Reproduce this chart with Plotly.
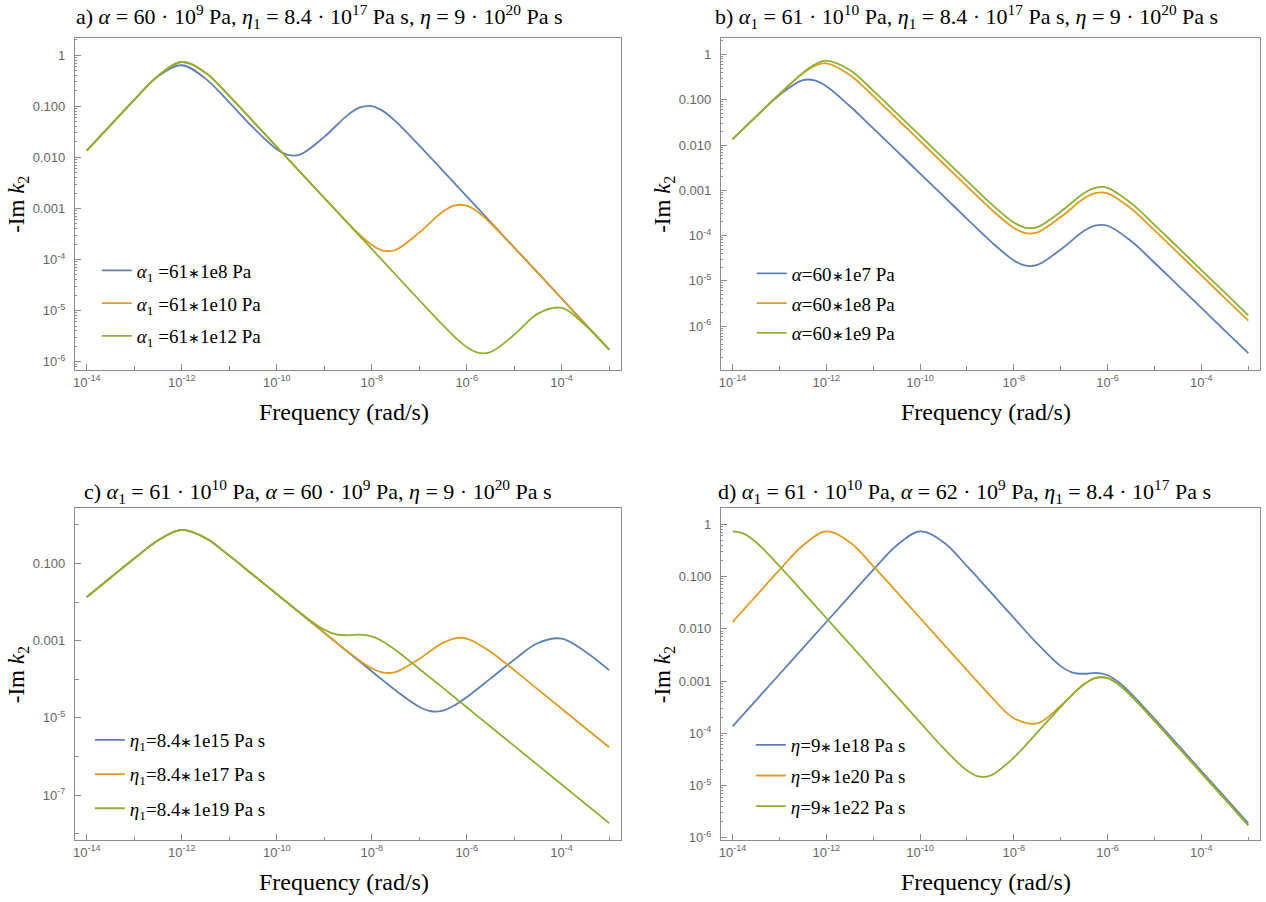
import plotly.graph_objects as go

# ---------------- data ----------------
# Panel a: alpha = 60e9, eta1 = 8.4e17, eta = 9e20 ; alpha1 varied
FREQ_A = [1e-14, 3.16e-14, 1e-13, 3.16e-13, 1e-12, 3.16e-12, 1e-11, 3.16e-11, 1e-10, 1.78e-10,
          3.16e-10, 1e-9, 3.16e-9, 5.62e-9, 1e-8, 1.78e-8, 3.16e-8, 1e-7, 3.16e-7, 5.62e-7,
          1e-6, 1.78e-6, 3.16e-6, 1e-5, 3.16e-5, 1e-4, 3.16e-4, 1e-3]
A_ALPHA1_8 = [0.0135, 0.04265, 0.1335, 0.3837, 0.6344, 0.3478, 0.1188, 0.03855, 0.01439, 0.01105,
              0.01146, 0.02516, 0.06775, 0.0948, 0.1011, 0.0794, 0.05106, 0.01717, 0.005464, 0.003075,
              0.001729, 9.726e-4, 5.468e-4, 1.729e-4, 5.468e-5, 1.729e-5, 5.468e-6, 1.729e-6]
A_ALPHA1_10 = [0.0135, 0.04265, 0.1339, 0.3938, 0.7337, 0.4542, 0.1588, 0.05077, 0.01607, 0.009041,
               0.005084, 0.001611, 5.186e-4, 3.042e-4, 1.934e-4, 1.484e-4, 1.539e-4, 3.366e-4, 8.735e-4, 1.152e-3,
               1.131e-3, 8.333e-4, 5.194e-4, 1.720e-4, 5.465e-5, 1.729e-5, 5.469e-6, 1.729e-6]
A_ALPHA1_12 = [0.0135, 0.04265, 0.1339, 0.3939, 0.7348, 0.4555, 0.1593, 0.05093, 0.01612, 0.009069,
               0.005099, 0.001612, 5.099e-4, 2.868e-4, 1.612e-4, 9.069e-5, 5.099e-5, 1.616e-5, 5.202e-6, 3.052e-6,
               1.940e-6, 1.489e-6, 1.546e-6, 3.376e-6, 8.759e-6, 1.133e-5, 5.195e-6, 1.720e-6]

# Panel b: alpha1 = 61e10, eta1 = 8.4e17, eta = 9e20 ; alpha varied
FREQ_B = [1e-14, 3.16e-14, 1e-13, 3.16e-13, 5.62e-13, 1e-12, 3.16e-12, 1e-11, 3.16e-11, 1e-10,
          3.16e-10, 1e-9, 3.16e-9, 1e-8, 1.78e-8, 3.16e-8, 1e-7, 3.16e-7, 5.62e-7, 1e-6,
          3.16e-6, 1e-5, 3.16e-5, 1e-4, 3.16e-4, 1e-3]
B_ALPHA_7 = [0.01349, 0.04245, 0.1276, 0.2708, 0.2689, 0.1995, 0.07276, 0.02337, 0.007401, 0.002341,
             7.404e-4, 2.346e-4, 7.552e-5, 2.816e-5, 2.162e-5, 2.241e-5, 4.901e-5, 1.272e-4, 1.677e-4, 1.646e-4,
             7.550e-5, 2.500e-5, 7.943e-6, 2.514e-6, 7.95e-7, 2.513e-7]
B_ALPHA_8 = [0.0135, 0.04264, 0.1335, 0.3844, 0.5625, 0.6411, 0.3541, 0.1210, 0.03858, 0.01221,
             0.003862, 0.001224, 3.939e-4, 1.469e-4, 1.127e-4, 1.169e-4, 2.557e-4, 6.635e-4, 8.752e-4, 8.593e-4,
             3.944e-4, 1.306e-4, 4.150e-5, 1.313e-5, 4.152e-6, 1.313e-6]
B_ALPHA_9 = [0.0135, 0.04265, 0.1339, 0.3938, 0.5998, 0.7337, 0.4542, 0.1588, 0.05077, 0.01607,
             0.005084, 0.001611, 5.186e-4, 1.934e-4, 1.484e-4, 1.539e-4, 3.366e-4, 8.735e-4, 1.152e-3, 1.131e-3,
             5.194e-4, 1.720e-4, 5.465e-5, 1.729e-5, 5.469e-6, 1.729e-6]

# Panel c: alpha1 = 61e10, alpha = 60e9, eta = 9e20 ; eta1 varied
FREQ_C = [1e-14, 3.16e-14, 1e-13, 3.16e-13, 1e-12, 3.16e-12, 1e-11, 3.16e-11, 1e-10, 3.16e-10,
          5.62e-10, 1e-9, 1.78e-9, 3.16e-9, 5.62e-9, 1e-8, 1.78e-8, 3.16e-8, 1e-7, 1.78e-7,
          3.16e-7, 5.62e-7, 1e-6, 3.16e-6, 1e-5, 3.16e-5, 1e-4, 3.16e-4, 1e-3]
C_ETA1_15 = [0.0135, 0.04265, 0.1339, 0.3938, 0.7337, 0.4542, 0.1588, 0.05077, 0.01607, 0.005083,
             0.002858, 0.001607, 9.04e-4, 5.084e-4, 2.860e-4, 1.611e-4, 9.096e-5, 5.186e-5, 1.934e-5, 1.485e-5,
             1.541e-5, 2.122e-5, 3.426e-5, 1.036e-4, 3.207e-4, 8.685e-4, 1.130e-3, 5.189e-4, 1.719e-4]
C_ETA1_17 = [0.0135, 0.04265, 0.1339, 0.3938, 0.7337, 0.4542, 0.1588, 0.05077, 0.01607, 0.005084,
             0.00286, 0.001611, 9.096e-4, 5.186e-4, 3.042e-4, 1.934e-4, 1.484e-4, 1.539e-4, 3.366e-4, 5.569e-4,
             8.735e-4, 1.152e-3, 1.131e-3, 5.194e-4, 1.720e-4, 5.465e-5, 1.729e-5, 5.469e-6, 1.729e-6]
C_ETA1_19 = [0.0135, 0.04265, 0.1339, 0.3938, 0.7337, 0.4542, 0.1588, 0.05078, 0.016104, 0.005186,
             0.003041, 0.001928, 0.001452, 0.001377, 0.001436, 0.001291, 9.230e-4, 5.699e-4, 1.880e-4, 1.061e-4,
             5.970e-5, 3.359e-5, 1.889e-5, 5.973e-6, 1.889e-6, 5.973e-7, 1.889e-7, 5.973e-8, 1.889e-8]

# Panel d: alpha1 = 61e10, alpha = 62e9, eta1 = 8.4e17 ; eta varied
FREQ_D = [1e-14, 1.78e-14, 3.16e-14, 1e-13, 3.16e-13, 1e-12, 3.16e-12, 1e-11, 3.16e-11, 1e-10, 3.16e-10,
          1e-9, 1.78e-9, 3.16e-9, 1e-8, 3.16e-8, 1e-7, 1.78e-7, 3.16e-7, 5.62e-7, 1e-6,
          1.78e-6, 3.16e-6, 1e-5, 3.16e-5, 1e-4, 3.16e-4, 1e-3]
D_ETA_18 = [1.35e-4, 2.4e-4, 4.269e-4, 0.00135, 0.004269, 0.0135, 0.04265, 0.1339, 0.3939, 0.7341, 0.4546,
            0.1590, 0.09016, 0.05083, 0.01612, 0.005191, 0.001930, 0.001454, 0.001378, 0.001437, 0.001292,
            9.240e-4, 5.705e-4, 1.882e-4, 5.977e-5, 1.891e-5, 5.980e-6, 1.891e-6]
D_ETA_20 = [0.0135, 0.024, 0.04265, 0.1339, 0.3939, 0.7341, 0.4546, 0.1590, 0.05082, 0.01609, 0.005089,
            0.001612, 9.107e-4, 5.191e-4, 1.936e-4, 1.541e-4, 3.369e-4, 5.575e-4, 8.744e-4, 1.153e-3, 1.133e-3,
            8.342e-4, 5.199e-4, 1.722e-4, 5.470e-5, 1.731e-5, 5.475e-6, 1.731e-6]
D_ETA_22 = [0.7341, 0.6572, 0.4546, 0.1590, 0.05082, 0.01609, 0.005088, 0.001609, 5.088e-4, 1.609e-4, 5.191e-5,
            1.936e-5, 1.486e-5, 1.543e-5, 3.429e-5, 1.037e-4, 3.210e-4, 5.485e-4, 8.695e-4, 1.151e-3, 1.131e-3,
            8.333e-4, 5.194e-4, 1.720e-4, 5.466e-5, 1.730e-5, 5.469e-6, 1.730e-6]

STAR = "<span style='font-size:14px'>∗</span>"
LEG_A = ["<i>α</i><sub>1</sub> =61" + STAR + "1e8 Pa", "<i>α</i><sub>1</sub> =61" + STAR + "1e10 Pa",
         "<i>α</i><sub>1</sub> =61" + STAR + "1e12 Pa"]
LEG_B = ["<i>α</i>=60" + STAR + "1e7 Pa", "<i>α</i>=60" + STAR + "1e8 Pa", "<i>α</i>=60" + STAR + "1e9 Pa"]
LEG_C = ["<i>η</i><sub>1</sub>=8.4" + STAR + "1e15 Pa s", "<i>η</i><sub>1</sub>=8.4" + STAR + "1e17 Pa s",
         "<i>η</i><sub>1</sub>=8.4" + STAR + "1e19 Pa s"]
LEG_D = ["<i>η</i>=9" + STAR + "1e18 Pa s", "<i>η</i>=9" + STAR + "1e20 Pa s", "<i>η</i>=9" + STAR + "1e22 Pa s"]

TITLES = [
    "a) <i>α</i> = 60 · 10<sup>9</sup> Pa, <i>η</i><sub>1</sub> = 8.4 · 10<sup>17</sup> Pa s, <i>η</i> = 9 · 10<sup>20</sup> Pa s",
    "b) <i>α</i><sub>1</sub> = 61 · 10<sup>10</sup> Pa, <i>η</i><sub>1</sub> = 8.4 · 10<sup>17</sup> Pa s, <i>η</i> = 9 · 10<sup>20</sup> Pa s",
    "c) <i>α</i><sub>1</sub> = 61 · 10<sup>10</sup> Pa, <i>α</i> = 60 · 10<sup>9</sup> Pa, <i>η</i> = 9 · 10<sup>20</sup> Pa s",
    "d) <i>α</i><sub>1</sub> = 61 · 10<sup>10</sup> Pa, <i>α</i> = 62 · 10<sup>9</sup> Pa, <i>η</i><sub>1</sub> = 8.4 · 10<sup>17</sup> Pa s",
]
X_LABEL = "Frequency (rad/s)"
Y_LABEL = "-Im <i>k</i><sub>2</sub>"

X_TICKS = [1e-14, 1e-12, 1e-10, 1e-8, 1e-6, 1e-4]
X_TICKTEXT = ["10<sup>-14</sup>", "10<sup>-12</sup>", "10<sup>-10</sup>", "10<sup>-8</sup>", "10<sup>-6</sup>", "10<sup>-4</sup>"]
X_MINOR = [1e-13, 1e-11, 1e-9, 1e-7, 1e-5, 1e-3]
Y_TICKS_FULL = [1, 0.1, 0.01, 0.001, 1e-4, 1e-5, 1e-6]
Y_TICKTEXT_FULL = ["1", "0.100", "0.010", "0.001", "10<sup>-4</sup>", "10<sup>-5</sup>", "10<sup>-6</sup>"]
Y_TICKS_C = [0.1, 1e-3, 1e-5, 1e-7]
Y_TICKTEXT_C = ["0.100", "0.001", "10<sup>-5</sup>", "10<sup>-7</sup>"]
Y_MINOR_C = [1, 0.01, 1e-4, 1e-6, 1e-8]

# ---------------- styling ----------------
W, H = 1266, 902
COLORS = ["#5E81B5", "#E19C24", "#8FB032"]
FRAME = "#8c8c8c"
SERIF = "Liberation Serif, Times New Roman, serif"
SANS = "Liberation Sans, Arial, sans-serif"


def fx(p):
    return p / W


def fy(p):
    return 1 - p / H


# frame boxes in pixels: (left, right, top, bottom)
BOX = {
    1: (73, 620, 38, 372),
    2: (720, 1260, 38, 372),
    3: (73, 620, 511, 845),
    4: (720, 1260, 511, 845),
}
YRANGE = {1: [-6.16, 0.34], 2: [-6.97, 0.37], 3: [-8.17, 0.43], 4: [-6.05, 0.31]}
XRANGE = [-14.25, -2.75]

PANELS = [
    (1, FREQ_A, [A_ALPHA1_8, A_ALPHA1_10, A_ALPHA1_12], LEG_A),
    (2, FREQ_B, [B_ALPHA_7, B_ALPHA_8, B_ALPHA_9], LEG_B),
    (3, FREQ_C, [C_ETA1_15, C_ETA1_17, C_ETA1_19], LEG_C),
    (4, FREQ_D, [D_ETA_18, D_ETA_20, D_ETA_22], LEG_D),
]
# legend (left, top, group gap) in pixels
LEGEND_POS = {1: (95, 253, 5), 2: (751, 256, 2), 3: (88, 725, 6.5), 4: (750, 730, 3)}

fig = go.Figure()
minor_full = [m * 10.0 ** k for k in range(-8, 1) for m in range(2, 10)]

layout = dict(width=W, height=H, margin=dict(l=0, r=0, t=0, b=0), autosize=False,
              paper_bgcolor="white", plot_bgcolor="white", showlegend=True)
annotations = []

for idx, freq, series, legs in PANELS:
    sfx = "" if idx == 1 else str(idx)
    legname = "legend" if idx == 1 else "legend%d" % idx
    for j, (vals, lab) in enumerate(zip(series, legs)):
        fig.add_trace(go.Scatter(
            x=freq, y=vals, mode="lines", name=lab,
            line=dict(color=COLORS[j], width=1.8, shape="spline", smoothing=1.0),
            xaxis="x" + sfx, yaxis="y" + sfx, legend=legname,
            legendgroup="g%d_%d" % (idx, j), hoverinfo="skip"))
    l, r, t, b = BOX[idx]
    common = dict(type="log", showline=True, linecolor=FRAME, linewidth=1, mirror=True,
                  ticks="inside", tickwidth=1, tickcolor=FRAME, showgrid=False, zeroline=False,
                  tickfont=dict(family=SANS, size=13, color="#666666"))
    layout["xaxis" + sfx] = dict(common, domain=[fx(l), fx(r)], range=XRANGE,
                                 anchor="y" + sfx, tickmode="array", tickvals=X_TICKS,
                                 ticktext=X_TICKTEXT, ticklen=6,
                                 minor=dict(tickmode="array", tickvals=X_MINOR, ticks="inside",
                                            ticklen=3.5, tickcolor=FRAME, showgrid=False))
    if idx == 3:
        yt, ytt, ym, ml = Y_TICKS_C, Y_TICKTEXT_C, Y_MINOR_C, 4
    else:
        yt, ytt, ym, ml = Y_TICKS_FULL, Y_TICKTEXT_FULL, minor_full, 2.5
    layout["yaxis" + sfx] = dict(common, domain=[fy(b), fy(t)], range=YRANGE[idx],
                                 anchor="x" + sfx, tickmode="array", tickvals=yt, ticktext=ytt,
                                 ticklen=6, ticklabelstandoff=6,
                                 minor=dict(tickmode="array", tickvals=ym, ticks="inside",
                                            ticklen=ml, tickcolor=FRAME, showgrid=False))
    lx, ly, gap = LEGEND_POS[idx]
    layout[legname] = dict(x=fx(lx), y=fy(ly), xanchor="left", yanchor="top",
                           bgcolor="rgba(0,0,0,0)", borderwidth=0,
                           font=dict(family=SERIF, size=19, color="black"),
                           traceorder="grouped", tracegroupgap=gap, itemwidth=30)
    # x axis title
    annotations.append(dict(text=X_LABEL, xref="paper", yref="paper",
                            x=fx((l + r) / 2 - 4), y=fy(b + 42), xanchor="center", yanchor="middle",
                            showarrow=False, font=dict(family=SERIF, size=24, color="black")))
    # y axis title
    annotations.append(dict(text=Y_LABEL, xref="paper", yref="paper", textangle=-90,
                            x=fx(l - 57), y=fy((t + b) / 2), xanchor="center", yanchor="middle",
                            showarrow=False, font=dict(family=SERIF, size=23, color="black")))

TITLE_POS = {1: (318, 17), 2: (966, 17), 3: (316, 494), 4: (964, 494)}
for idx, txt in enumerate(TITLES, start=1):
    tx, ty = TITLE_POS[idx]
    annotations.append(dict(text=txt, xref="paper", yref="paper", x=fx(tx), y=fy(ty),
                            xanchor="center", yanchor="middle", showarrow=False,
                            font=dict(family=SERIF, size=22, color="black")))

layout["annotations"] = annotations
fig.update_layout(**layout)
fig.write_html("out.html", config={"displayModeBar": False},
               post_script="document.body.style.margin='0px';document.body.style.padding='0px';")
